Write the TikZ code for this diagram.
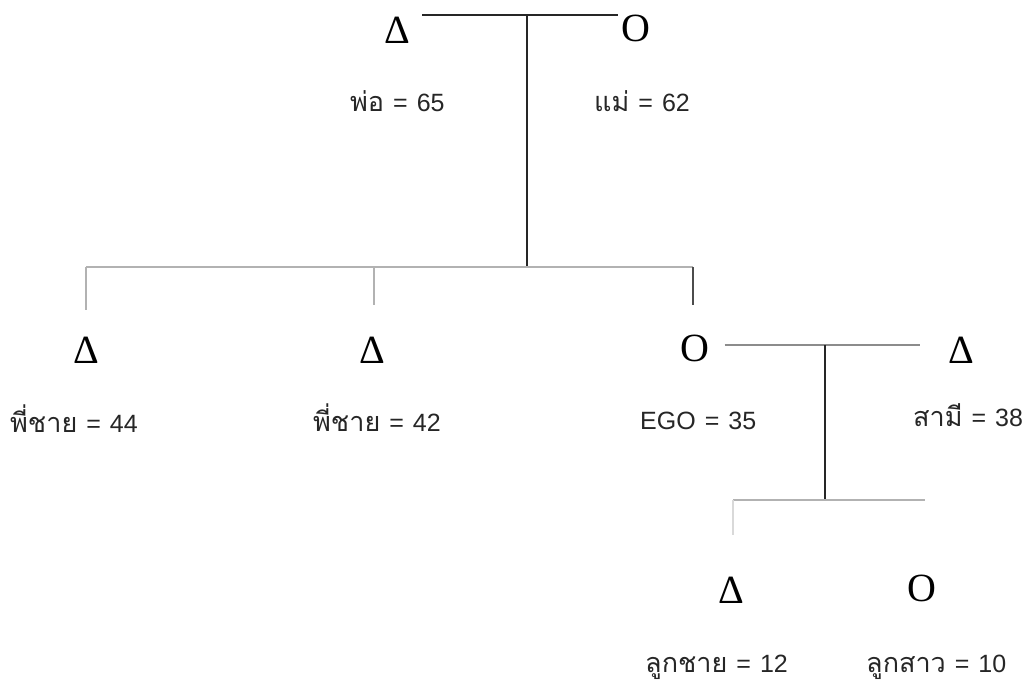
\documentclass[tikz,border=0pt]{standalone}
\usepackage{fontspec}
\setmainfont{Liberation Sans}
\newfontfamily\thaifont[Script=Thai,Scale=1.08]{Loma}
\newfontfamily\kinsymfont{Liberation Serif}
\newcommand\eqsp{\hspace{0.36em}=\hspace{0.36em}}
\begin{document}
\begin{tikzpicture}[x=1pt,y=-1pt,
  kinsym/.style={inner sep=0pt, font=\kinsymfont\fontsize{40}{40}\selectfont},
  lab/.style={anchor=base west, inner sep=0pt, font=\fontsize{25}{28}\selectfont, black!85},
  kin/.style={line width=1.3pt, black!85},
  faint/.style={line width=1.1pt, black!30}]
\useasboundingbox (0,0) rectangle (1034,683);
% generation 1
\node[kinsym] (fa) at (397,30) {Δ};
\node[kinsym] (mo) at (636,28) {O};
\node[lab] (lfa) at (350,111) {{\thaifont พ่อ}\eqsp65};
\node[lab] (lmo) at (594,111) {{\thaifont แม่}\eqsp62};
% generation 2
\node[kinsym] (b1) at (86,350) {Δ};
\node[kinsym] (b2) at (372,350) {Δ};
\node[kinsym] (ego) at (695,348) {O};
\node[kinsym] (hu) at (961,350) {Δ};
\node[lab] (lb1) at (10,432) {{\thaifont พี่ชาย}\eqsp44};
\node[lab] (lb2) at (313,431) {{\thaifont พี่ชาย}\eqsp42};
\node[lab] (lego) at (640,429) {EGO\eqsp35};
\node[lab] (lhu) at (913,426) {{\thaifont สามี}\eqsp38};
% generation 3
\node[kinsym] (so) at (731,590) {Δ};
\node[kinsym] (da) at (922,588) {O};
\node[lab] (lso) at (645,672) {{\thaifont ลูกชาย}\eqsp12};
\node[lab] (lda) at (866,672) {{\thaifont ลูกสาว}\eqsp10};
% junctions
\coordinate (m1) at (527,15);
\coordinate (s1) at (527,267);
\coordinate (m2) at (825,345);
\coordinate (s2) at (825,500);
\coordinate (d1) at (86,310);
\coordinate (d2) at (374,305);
\coordinate (d3) at (693,305);
\coordinate (d4) at (733,535);
% marriage 1
\draw[kin] ([xshift=12pt]fa.east |- m1) -- ([xshift=-3pt]mo.west |- m1);
\draw[kin] (m1) -- (s1);
% siblings
\draw[faint] (d1 |- s1) -- (d3 |- s1);
\draw[faint] (d1 |- s1) -- (d1);
\draw[faint] (d2 |- s1) -- (d2);
\draw[kin, line width=1.1pt, black!70] (d3 |- s1) -- (d3);
% marriage 2
\draw[faint, black!45] ([xshift=15pt]ego.east |- m2) -- ([xshift=-28pt]hu.west |- m2);
\draw[kin] (m2) -- (s2);
% children
\draw[faint] (d4 |- s2) -- ([xshift=3pt]da.center |- s2);
\draw[faint, black!15] (d4 |- s2) -- (d4);
\end{tikzpicture}
\end{document}
